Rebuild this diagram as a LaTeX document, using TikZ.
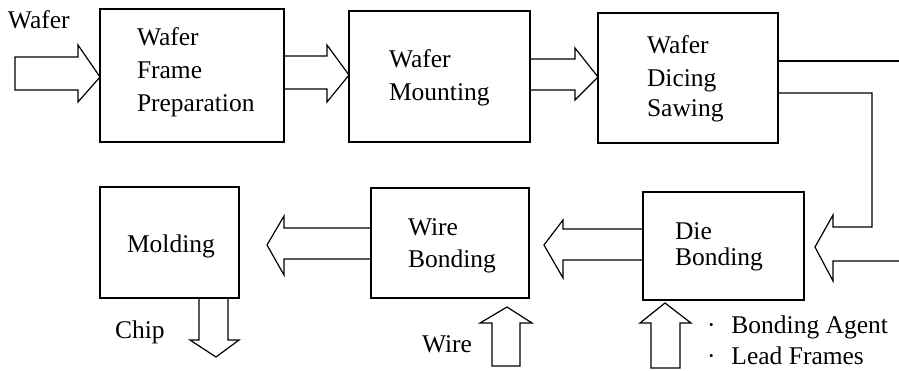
\documentclass[tikz,border=0pt]{standalone}
\usepackage{fontspec}
\setmainfont{Liberation Serif}
\usetikzlibrary{calc}
\begin{document}
\begin{tikzpicture}[x=1pt,y=-1pt,line width=1.2pt,line join=miter,
  procbox/.style={draw,rectangle,inner sep=0pt,outer sep=0pt,anchor=north west},
  lbl/.style={anchor=base west,inner sep=0pt,outer sep=0pt,font=\fontsize{25.5}{30}\selectfont},
  blk/.style={draw,line join=miter}]
\useasboundingbox (0,0) rectangle (899,370);
% process boxes
\node[procbox,minimum width=184pt,minimum height=133pt] (b1) at (100,9) {};
\node[procbox,minimum width=181pt,minimum height=131pt] (b2) at (349,11) {};
\node[procbox,minimum width=180pt,minimum height=130pt] (b3) at (598,13) {};
\node[procbox,minimum width=161pt,minimum height=108pt] (b4) at (643,192) {};
\node[procbox,minimum width=158pt,minimum height=110pt] (b5) at (371,188) {};
\node[procbox,minimum width=139pt,minimum height=111pt] (b6) at (100,187) {};
% texts
\node[lbl] (lwafer) at (8,28) {Wafer};
\node[lbl] (t1a) at (137,45) {Wafer};
\node[lbl] (t1b) at (137,78) {Frame};
\node[lbl] (t1c) at (137,111) {Preparation};
\node[lbl] (t2a) at (389,67) {Wafer};
\node[lbl] (t2b) at (389,100) {Mounting};
\node[lbl] (t3a) at (647,53) {Wafer};
\node[lbl] (t3b) at (647,86) {Dicing};
\node[lbl] (t3c) at (647,116) {Sawing};
\node[lbl] (t4a) at (675,239) {Die};
\node[lbl] (t4b) at (675,265) {Bonding};
\node[lbl] (t5a) at (408,235) {Wire};
\node[lbl] (t5b) at (408,267) {Bonding};
\node[lbl] (t6a) at (127,252) {Molding};
\node[lbl] (lchip) at (115,338) {Chip};
\node[lbl] (lwire) at (422,352) {Wire};
\node[lbl] (lagent) at (707,333) {·\hspace{16pt}Bonding Agent};
\node[lbl] (llead) at (707,364) {·\hspace{16pt}Lead Frames};
% tips
\coordinate (tip4) at (815,247);
\coordinate (tip5) at (544,245);
\coordinate (tip6) at (267,245);
\coordinate (tip7) at (507,307);
\coordinate (tip8) at (665,303);
% input arrow
\draw[blk] (15,57) -- (78,57) -- (78,45) -- (b1.west |- 0,77) -- (78,102) -- (78,90) -- (15,90) -- cycle;
% b1 -> b2
\draw[blk] (b1.east |- 0,56) -- (327,56) -- (327,45) -- (b2.west |- 0,75) -- (327,102) -- (327,89) -- (b1.east |- 0,89);
% b2 -> b3
\draw[blk] (b2.east |- 0,59) -- (575,59) -- (575,48) -- (b3.west |- 0,77) -- (575,100) -- (575,90) -- (b2.east |- 0,90);
% b3 -> b4 loop
\draw[blk] (b3.east |- 0,61) -- (899,61);
\draw[blk] (b3.east |- 0,93) -- (872,93) -- (872,227) -- (833,227) -- (833,215) -- (tip4) -- (833,281) -- (833,261) -- (899,261);
% b4 -> b5
\draw[blk] (b4.west |- 0,229) -- (563,229) -- (563,220) -- (tip5) -- (563,278) -- (563,260) -- (b4.west |- 0,260);
% b5 -> b6
\draw[blk] (b5.west |- 0,228) -- (284,228) -- (284,216) -- (tip6) -- (284,275) -- (284,259) -- (b5.west |- 0,259);
% chip out
\draw[blk] (b6.south -| 199,0) -- (199,340) -- (190,340) -- (216,357) -- (239,340) -- (228,340) -- (b6.south -| 228,0);
% wire in
\draw[blk] (492,366) -- (492,323) -- (480,323) -- (tip7) -- (532,323) -- (520,323) -- (520,366) -- cycle;
% bonding agent in
\draw[blk] (651,368) -- (651,323) -- (640,323) -- (tip8) -- (691,323) -- (680,323) -- (680,368) -- cycle;
\end{tikzpicture}
\end{document}
